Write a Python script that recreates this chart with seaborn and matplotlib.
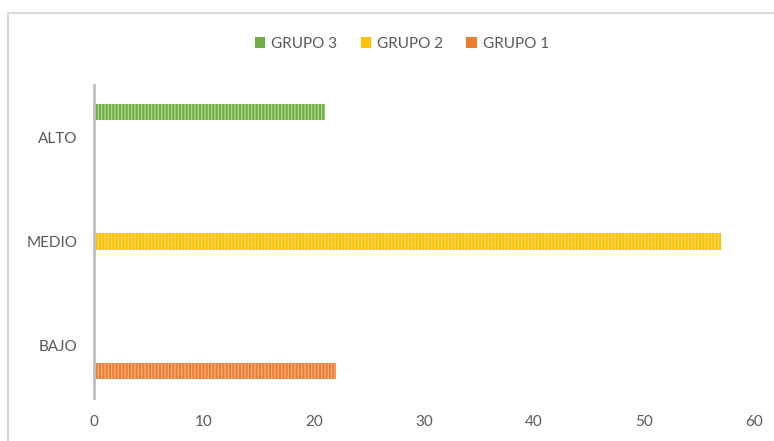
import matplotlib
matplotlib.use("Agg")
import matplotlib.pyplot as plt
import seaborn as sns
import pandas as pd
from matplotlib.patches import Rectangle, Patch

categories = ["ALTO", "MEDIO", "BAJO"]
groups = ["GRUPO 3", "GRUPO 2", "GRUPO 1"]
grupo3 = [21, 0, 0]
grupo2 = [0, 57, 0]
grupo1 = [0, 0, 22]
xticks = [0, 10, 20, 30, 40, 50, 60]

colors = {"GRUPO 3": "#70AD47", "GRUPO 2": "#FFC000", "GRUPO 1": "#ED7D31"}
light = {"GRUPO 3": "#B9DC9F", "GRUPO 2": "#FFE07A", "GRUPO 1": "#F6B88C"}

rows = []
for g, vals in zip(groups, [grupo3, grupo2, grupo1]):
    for c, v in zip(categories, vals):
        rows.append({"cat": c, "grupo": g, "valor": v})
df = pd.DataFrame(rows)

sns.set_theme(style="white")
plt.rcParams["font.family"] = ["Lato", "DejaVu Sans"]
plt.rcParams["hatch.linewidth"] = 0.8

fig = plt.figure(figsize=(7.74, 4.41), dpi=100)
ax = fig.add_axes([94/774, 1-398/441, (754-94)/774, (398-85)/441])

sns.barplot(data=df, y="cat", x="valor", hue="grupo", order=categories,
            hue_order=groups, palette=colors, orient="h", width=0.72,
            gap=0.36, ax=ax, legend=False)

# style bars with vertical stripes
for cont, g in zip(ax.containers, groups):
    for bar in cont:
        bar.set_facecolor(colors[g])
        bar.set_edgecolor(light[g])
        bar.set_linewidth(0)
        bar.set_hatch("|" * 5)

ax.set_xlim(0, 60)
ax.set_ylim(2.5, -0.5)
ax.set_xticks(xticks)
ax.set_xlabel("")
ax.set_ylabel("")
for s in ["top", "right", "bottom"]:
    ax.spines[s].set_visible(False)
ax.spines["left"].set_color("#BFBFBF")
ax.spines["left"].set_linewidth(2)
ax.tick_params(axis="x", length=0, pad=12, labelsize=11, labelcolor="#595959")
ax.tick_params(axis="y", length=0, pad=12, labelsize=11, labelcolor="#595959")
ax.grid(False)

handles = [Patch(facecolor=colors[g], edgecolor="none") for g in groups]
fig.legend(handles, groups, loc="center", bbox_to_anchor=(402/774, 1-44/441),
           ncol=3, frameon=False, fontsize=11, labelcolor="#595959",
           handlelength=0.7, handleheight=0.7, handletextpad=0.4,
           columnspacing=1.5)

fig.add_artist(Rectangle((8/774, -0.05), 1.2, (1-13/441)+0.05,
                         transform=fig.transFigure, fill=False,
                         edgecolor="#D9D9D9", linewidth=1.5))

fig.savefig("out.png", dpi=100)
